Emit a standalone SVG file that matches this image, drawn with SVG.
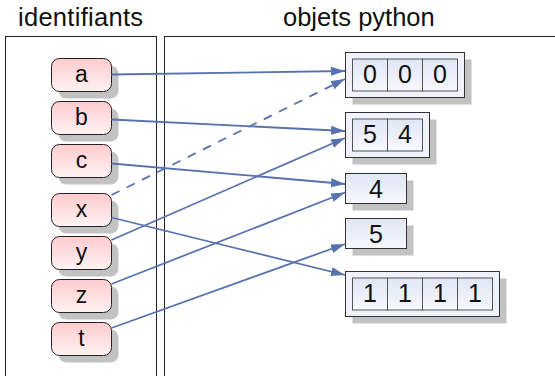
<svg xmlns="http://www.w3.org/2000/svg" width="555" height="376" viewBox="0 0 555 376">
  <defs>
    <linearGradient id="pink" x1="0" y1="0" x2="0" y2="1">
      <stop offset="0" stop-color="#ffcbce"/>
      <stop offset="1" stop-color="#fff3f3"/>
    </linearGradient>
    <linearGradient id="blue" x1="0" y1="0" x2="0" y2="1">
      <stop offset="0" stop-color="#e0e6f5"/>
      <stop offset="1" stop-color="#f6f8fd"/>
    </linearGradient>
    <marker id="arrow" markerUnits="userSpaceOnUse" markerWidth="15" markerHeight="10" refX="14" refY="4.5" orient="auto">
      <path d="M0,0 L14,4.5 L0,9 Z" fill="#5872b0" stroke="none"/>
    </marker>
    <style>
      .title { font-family: "Liberation Sans", Arial, sans-serif; font-size: 25.5px; fill: #111; }
      .frame { fill: none; stroke: #222; stroke-width: 1; }
      .shadow { fill: #c2c2c2; stroke: none; }
      .ident { fill: url(#pink); stroke: #222; stroke-width: 1; }
      .outer { fill: #eff2fa; stroke: #333; stroke-width: 1; }
      .cell { fill: url(#blue); stroke: #555; stroke-width: 1; }
      .single { fill: url(#blue); stroke: #333; stroke-width: 1; }
      .lbl { font-family: "Liberation Sans", Arial, sans-serif; font-size: 23px; fill: #111; text-anchor: middle; }
      .val { font-family: "Liberation Sans", Arial, sans-serif; font-size: 25px; fill: #111; text-anchor: middle; }
      .edge { fill: none; stroke: #5872b0; stroke-width: 1.8; marker-end: url(#arrow); }
      .dash { stroke-dasharray: 9 8; }
    </style>
  </defs>

  <rect width="555" height="376" fill="#ffffff"/>

  <!-- column headers and frames -->
  <text class="title" x="18" y="26" textLength="125" lengthAdjust="spacing">identifiants</text>
  <text class="title" x="283" y="26">objets python</text>
  <rect class="frame" x="5.5" y="36.5" width="151" height="400"/>
  <rect class="frame" x="164.5" y="36.5" width="500" height="400"/>

  <!-- identifiers -->
  <g id="node-a" transform="translate(51.5,58.5)">
    <rect class="shadow" x="7" y="7" width="60" height="33" rx="8"/>
    <rect class="ident" width="60" height="33" rx="8"/>
    <text class="lbl" x="30" y="23.5">a</text>
  </g>
  <g id="node-b" transform="translate(51.5,101.5)">
    <rect class="shadow" x="7" y="7" width="60" height="33" rx="8"/>
    <rect class="ident" width="60" height="33" rx="8"/>
    <text class="lbl" x="30" y="23.5">b</text>
  </g>
  <g id="node-c" transform="translate(51.5,144.5)">
    <rect class="shadow" x="7" y="7" width="60" height="33" rx="8"/>
    <rect class="ident" width="60" height="33" rx="8"/>
    <text class="lbl" x="30" y="23.5">c</text>
  </g>
  <g id="node-x" transform="translate(51.5,193.5)">
    <rect class="shadow" x="7" y="7" width="60" height="33" rx="8"/>
    <rect class="ident" width="60" height="33" rx="8"/>
    <text class="lbl" x="30" y="23.5">x</text>
  </g>
  <g id="node-y" transform="translate(51.5,236.5)">
    <rect class="shadow" x="7" y="7" width="60" height="33" rx="8"/>
    <rect class="ident" width="60" height="33" rx="8"/>
    <text class="lbl" x="30" y="23.5">y</text>
  </g>
  <g id="node-z" transform="translate(51.5,279.5)">
    <rect class="shadow" x="7" y="7" width="60" height="33" rx="8"/>
    <rect class="ident" width="60" height="33" rx="8"/>
    <text class="lbl" x="30" y="23.5">z</text>
  </g>
  <g id="node-t" transform="translate(51.5,322.5)">
    <rect class="shadow" x="7" y="7" width="60" height="33" rx="8"/>
    <rect class="ident" width="60" height="33" rx="8"/>
    <text class="lbl" x="30" y="23.5">t</text>
  </g>

  <!-- python objects -->
  <g id="obj-000" transform="translate(345.5,52.5)">
    <rect class="shadow" x="7" y="7" width="119" height="45"/>
    <rect class="outer" width="119" height="45"/>
    <rect class="cell" x="7" y="6.5" width="35" height="32"/>
    <rect class="cell" x="42" y="6.5" width="35" height="32"/>
    <rect class="cell" x="77" y="6.5" width="35" height="32"/>
    <text class="val" x="24.5" y="30">0</text>
    <text class="val" x="59.5" y="30">0</text>
    <text class="val" x="94.5" y="30">0</text>
  </g>
  <g id="obj-54" transform="translate(345.5,112.5)">
    <rect class="shadow" x="7" y="7" width="84" height="45"/>
    <rect class="outer" width="84" height="45"/>
    <rect class="cell" x="7" y="6.5" width="35" height="32"/>
    <rect class="cell" x="42" y="6.5" width="35" height="32"/>
    <text class="val" x="24.5" y="30">5</text>
    <text class="val" x="59.5" y="30">4</text>
  </g>
  <g id="obj-4" transform="translate(345.5,173.5)">
    <rect class="shadow" x="7" y="7" width="61" height="30"/>
    <rect class="single" width="61" height="30"/>
    <text class="val" x="30.5" y="24.5">4</text>
  </g>
  <g id="obj-5" transform="translate(345.5,218.5)">
    <rect class="shadow" x="7" y="7" width="61" height="30"/>
    <rect class="single" width="61" height="30"/>
    <text class="val" x="30.5" y="24.5">5</text>
  </g>
  <g id="obj-1111" transform="translate(345.5,271.5)">
    <rect class="shadow" x="7" y="7" width="154" height="45"/>
    <rect class="outer" width="154" height="45"/>
    <rect class="cell" x="7" y="6.5" width="35" height="32"/>
    <rect class="cell" x="42" y="6.5" width="35" height="32"/>
    <rect class="cell" x="77" y="6.5" width="35" height="32"/>
    <rect class="cell" x="112" y="6.5" width="35" height="32"/>
    <text class="val" x="24.5" y="30">1</text>
    <text class="val" x="59.5" y="30">1</text>
    <text class="val" x="94.5" y="30">1</text>
    <text class="val" x="129.5" y="30">1</text>
  </g>

  <!-- references from identifiers to objects -->
  <g id="connectors">
    <line class="edge" x1="111.5" y1="74.5" x2="345" y2="71"/>
    <line class="edge" x1="111.5" y1="119.5" x2="345" y2="131"/>
    <line class="edge" x1="111.5" y1="163.5" x2="345" y2="184"/>
    <line class="edge dash" x1="111.5" y1="195" x2="345" y2="79"/>
    <line class="edge" x1="111.5" y1="217.5" x2="345" y2="275"/>
    <line class="edge" x1="111.5" y1="240" x2="345" y2="138"/>
    <line class="edge" x1="111.5" y1="284" x2="345" y2="192.5"/>
    <line class="edge" x1="111.5" y1="328" x2="345" y2="244"/>
  </g>
</svg>
